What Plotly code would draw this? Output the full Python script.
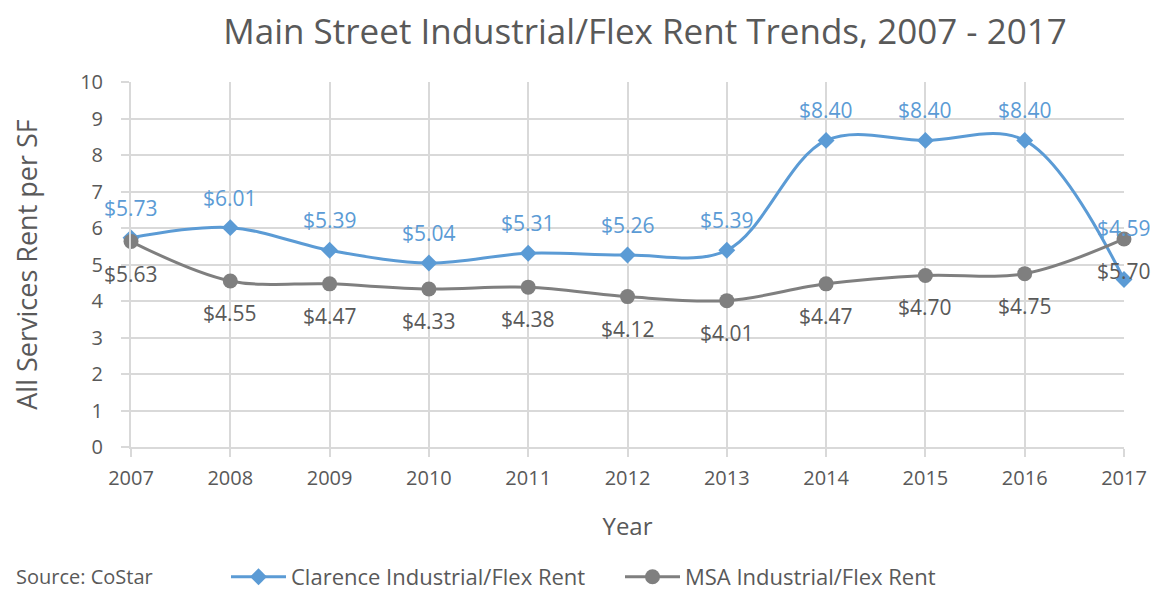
import plotly.graph_objects as go

years = [2007, 2008, 2009, 2010, 2011, 2012, 2013, 2014, 2015, 2016, 2017]
clarence = [5.73, 6.01, 5.39, 5.04, 5.31, 5.26, 5.39, 8.40, 8.40, 8.40, 4.59]
msa = [5.63, 4.55, 4.47, 4.33, 4.38, 4.12, 4.01, 4.47, 4.70, 4.75, 5.70]
clarence_name = "Clarence Industrial/Flex Rent"
msa_name = "MSA Industrial/Flex Rent"

# label offsets in pixels (style)
clarence_shift = [30, 30, 30, 30, 30, 30, 30, 30, 30, 30, 51]
msa_shift = [-32] * len(years)

BLUE = "#5B9BD5"
GRAY = "#7F7F7F"
TXT = "#595959"
GRID = "#D9D9D9"
FONT = "Open Sans"

W, H = 1153, 583
ML, MR, MT, MB = 123, 37, 74, 144
PW, PH = W - ML - MR, H - MT - MB

fig = go.Figure()
fig.add_trace(go.Scatter(
    x=years, y=clarence, name=clarence_name, mode="lines+markers",
    line=dict(color=BLUE, width=3, shape="spline", smoothing=1.0),
    marker=dict(symbol="diamond", size=13, color=BLUE),
    cliponaxis=False))
fig.add_trace(go.Scatter(
    x=years, y=msa, name=msa_name, mode="lines+markers",
    line=dict(color=GRAY, width=3, shape="spline", smoothing=1.0),
    marker=dict(symbol="circle", size=15, color=GRAY),
    cliponaxis=False))

for x, y, s in zip(years, clarence, clarence_shift):
    fig.add_annotation(x=x, y=y, text=f"${y:.2f}", showarrow=False, yshift=s,
                       font=dict(family=FONT, size=21, color=BLUE))
for x, y, s in zip(years, msa, msa_shift):
    fig.add_annotation(x=x, y=y, text=f"${y:.2f}", showarrow=False, yshift=s,
                       font=dict(family=FONT, size=21, color=TXT))

fig.add_annotation(xref="paper", yref="paper", x=(6 - ML) / PW, y=-129 / PH,
                   xanchor="left", yanchor="middle", showarrow=False,
                   text="Source: CoStar", font=dict(family=FONT, size=20, color=TXT))

fig.update_layout(
    width=W, height=H,
    margin=dict(l=ML, r=MR, t=MT, b=MB, autoexpand=False),
    paper_bgcolor="white", plot_bgcolor="white",
    font=dict(family=FONT, color=TXT),
    title=dict(text="Main Street Industrial/Flex Rent Trends, 2007 - 2017",
               x=637 / W, xanchor="center", y=1 - 24 / H, yanchor="middle",
               font=dict(family=FONT, size=35, color=TXT)),
    showlegend=True,
    legend=dict(orientation="h", x=(218 - ML) / PW, xanchor="left", y=-130 / PH, yanchor="middle",
                font=dict(family=FONT, size=22, color=TXT), entrywidth=324, itemwidth=55,
                bgcolor="rgba(0,0,0,0)"),
)
fig.update_xaxes(range=[2007, 2017], tickmode="array", tickvals=years,
                 showgrid=True, gridcolor=GRID, gridwidth=2,
                 showline=True, linecolor=GRID, linewidth=2,
                 ticks="outside", ticklen=8, tickcolor=GRID, tickwidth=2,
                 ticklabelstandoff=4,
                 tickfont=dict(family=FONT, size=20, color=TXT),
                 title=dict(text="Year", font=dict(family=FONT, size=24, color=TXT), standoff=28),
                 zeroline=False)
fig.update_yaxes(range=[0, 10], dtick=1, tick0=0,
                 showgrid=True, gridcolor=GRID, gridwidth=2,
                 showline=True, linecolor=GRID, linewidth=2,
                 ticks="outside", ticklen=8, tickcolor=GRID, tickwidth=2,
                 ticklabelstandoff=14,
                 tickfont=dict(family=FONT, size=20, color=TXT),
                 title=dict(text="All Services Rent per SF", font=dict(family=FONT, size=27, color=TXT), standoff=48),
                 zeroline=False)

fig.write_html("out.html")
